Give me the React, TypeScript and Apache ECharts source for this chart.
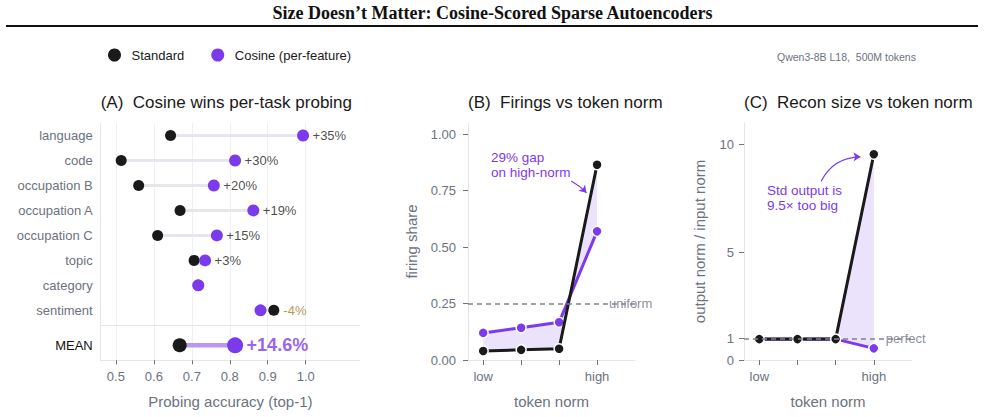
import React, { useEffect, useRef } from 'react';
import * as echarts from 'echarts';

// ---------- Panel A data ----------
const tasks = ['language', 'code', 'occupation B', 'occupation A', 'occupation C', 'topic', 'category', 'sentiment'];
const stdAcc = [0.644, 0.514, 0.560, 0.669, 0.610, 0.706, 0.717, 0.916];
const cosAcc = [0.993, 0.814, 0.758, 0.862, 0.766, 0.735, 0.717, 0.881];
const diffLabels = ['+35%', '+30%', '+20%', '+19%', '+15%', '+3%', '', '-4%'];
const meanName = 'MEAN';
const meanStd = 0.668;
const meanCos = 0.814;
const meanDiff = '+14.6%';
const accTicks = [0.5, 0.6, 0.7, 0.8, 0.9, 1.0];

// ---------- Panel B data ----------
const normBins = ['low', '', '', 'high'];
const firingStd = [0.04, 0.045, 0.05, 0.865];
const firingCos = [0.12, 0.143, 0.167, 0.57];
const firingTicks = [0, 0.25, 0.5, 0.75, 1.0];
const uniformShare = 0.25;

// ---------- Panel C data ----------
const reconStd = [0.97, 0.97, 0.97, 9.55];
const reconCos = [0.96, 0.96, 0.97, 0.54];
const reconTicks = [0, 1, 5, 10];
const perfectRatio = 1;

// ---------- layout / style constants ----------
const MEAN_POS = 8.4;
const SEP_POS = 7.6;
const BLACK = '#1a1a1a';
const PURPLE = '#7c3aed';
const FILL = 'rgba(124,58,237,0.15)';
const GRAY = '#6b7280';
const AXIS = '#e3e5ea';
const SANS = '"Liberation Sans", Arial, Helvetica, sans-serif';

function fillBetween(a: number[], b: number[], xi: number, yi: number) {
  return {
    type: 'custom',
    xAxisIndex: xi,
    yAxisIndex: yi,
    silent: true,
    z: 1,
    data: a.map((v, i) => [i, v, b[i]]),
    encode: { x: 0, y: [1, 2] },
    renderItem: (params: any, api: any) => {
      if (params.dataIndex !== 0) return null;
      const pts: number[][] = [];
      for (let i = 0; i < a.length; i++) pts.push(api.coord([i, a[i]]));
      for (let i = b.length - 1; i >= 0; i--) pts.push(api.coord([i, b[i]]));
      return { type: 'polygon', shape: { points: pts }, style: { fill: FILL } };
    },
  };
}

function lineSeries(vals: number[], color: string, xi: number, yi: number, z: number, size: number) {
  return {
    type: 'line',
    xAxisIndex: xi,
    yAxisIndex: yi,
    z,
    data: vals.map((v, i) => [i, v]),
    symbol: 'circle',
    symbolSize: size,
    lineStyle: { color, width: 3 },
    itemStyle: { color, borderColor: '#fff', borderWidth: 1.5, opacity: 1 },
    silent: true,
  };
}

function normXAxis(gi: number) {
  return {
    gridIndex: gi,
    type: 'value',
    min: -0.4,
    max: 4,
    axisLine: { show: true, onZero: false, lineStyle: { color: AXIS, width: 1 } },
    axisTick: { show: true, customValues: [0, 1, 2, 3], length: 5, lineStyle: { color: GRAY } },
    axisLabel: {
      customValues: [0, 1, 2, 3],
      formatter: (v: number) => normBins[Math.round(v)],
      fontSize: 13,
      color: GRAY,
      margin: 10,
    },
    splitLine: { show: false },
    name: 'token norm',
    nameLocation: 'middle',
    nameGap: 34,
    nameTextStyle: { fontSize: 15, color: GRAY },
  };
}

function buildOption(): any {
  const rowIdx = tasks.map((_, i) => i);
  return {
    animation: false,
    backgroundColor: '#fff',
    textStyle: { fontFamily: SANS },
    title: [
      {
        text: 'Size Doesn\u2019t Matter: Cosine-Scored Sparse Autoencoders',
        left: 'center',
        top: 4,
        padding: 0,
        textStyle: { fontFamily: '"Liberation Serif", "Times New Roman", serif', fontWeight: 'bold', fontSize: 18, color: '#111' },
      },
      { text: '(A)  Cosine wins per-task probing', left: 100.7, top: 94, padding: 0, textStyle: { fontFamily: SANS, fontSize: 17, fontWeight: 'normal', color: '#1a1a1a' } },
      { text: '(B)  Firings vs token norm', left: 468, top: 94, padding: 0, textStyle: { fontFamily: SANS, fontSize: 17, fontWeight: 'normal', color: '#1a1a1a' } },
      { text: '(C)  Recon size vs token norm', left: 744, top: 94, padding: 0, textStyle: { fontFamily: SANS, fontSize: 17, fontWeight: 'normal', color: '#1a1a1a' } },
    ],
    legend: {
      data: ['Standard', 'Cosine (per-feature)'],
      left: 108,
      top: 48.5,
      icon: 'circle',
      itemWidth: 24,
      itemHeight: 13,
      itemGap: 27,
      padding: 0,
      selectedMode: false,
      itemStyle: { opacity: 1 },
      textStyle: { fontSize: 13, color: '#1a1a1a', fontFamily: SANS },
    },
    graphic: [
      { type: 'line', shape: { x1: 6, y1: 26, x2: 978, y2: 26 }, style: { stroke: '#111', lineWidth: 2 }, silent: true },
      {
        type: 'text', x: 777, y: 57,
        style: { text: 'Qwen3-8B L18,  500M tokens', fill: GRAY, fontSize: 10.5, fontFamily: SANS, verticalAlign: 'middle' },
        silent: true,
      },
      {
        type: 'text', x: 491, y: 150,
        style: { text: '29% gap\non high-norm', fill: PURPLE, fontSize: 13.5, lineHeight: 15, fontFamily: SANS, verticalAlign: 'top' },
        silent: true,
      },
      {
        type: 'text', x: 767, y: 183,
        style: { text: 'Std output is\n9.5\u00d7 too big', fill: PURPLE, fontSize: 13.5, lineHeight: 15, fontFamily: SANS, verticalAlign: 'top' },
        silent: true,
      },
    ],
    grid: [
      { left: 100.7, top: 123, width: 259.3, height: 237.3 },
      { left: 468, top: 123, width: 167, height: 237 },
      { left: 744, top: 123, width: 168, height: 237 },
    ],
    xAxis: [
      {
        gridIndex: 0,
        type: 'value',
        min: 0.46,
        max: 1.143,
        axisLine: { show: true, onZero: false, lineStyle: { color: AXIS } },
        axisTick: { show: true, customValues: accTicks, length: 4, lineStyle: { color: GRAY } },
        axisLabel: { customValues: accTicks, formatter: (v: number) => v.toFixed(1), fontSize: 13, color: GRAY, margin: 10 },
        splitLine: { show: true, lineStyle: { color: '#eef0f4', width: 1 } },
        name: 'Probing accuracy (top-1)',
        nameLocation: 'middle',
        nameGap: 34,
        nameTextStyle: { fontSize: 15, color: GRAY },
      },
      normXAxis(1),
      normXAxis(2),
    ],
    yAxis: [
      {
        gridIndex: 0,
        type: 'value',
        inverse: true,
        min: -0.5,
        max: 9,
        axisLine: { show: true, onZero: false, lineStyle: { color: AXIS } },
        axisTick: { show: false },
        splitLine: { show: false },
        axisLabel: {
          customValues: [...rowIdx, MEAN_POS],
          formatter: (v: number) => (Math.abs(v - MEAN_POS) < 1e-6 ? '{m|' + meanName + '}' : tasks[Math.round(v)]),
          fontSize: 13,
          color: GRAY,
          margin: 8,
          rich: { m: { fontSize: 13, color: '#111', fontFamily: SANS } },
        },
      },
      {
        gridIndex: 1,
        type: 'value',
        min: 0,
        max: 1.05,
        axisLine: { show: true, onZero: false, lineStyle: { color: AXIS } },
        axisTick: { show: true, customValues: firingTicks, length: 5, lineStyle: { color: GRAY } },
        axisLabel: { customValues: firingTicks, formatter: (v: number) => v.toFixed(2), fontSize: 13, color: GRAY, margin: 12 },
        splitLine: { show: false },
        name: 'firing share',
        nameLocation: 'middle',
        nameGap: 49,
        nameTextStyle: { fontSize: 15, color: GRAY },
      },
      {
        gridIndex: 2,
        type: 'value',
        min: 0,
        max: 11,
        axisLine: { show: true, onZero: false, lineStyle: { color: AXIS } },
        axisTick: { show: true, customValues: reconTicks, length: 5, lineStyle: { color: GRAY } },
        axisLabel: { customValues: reconTicks, formatter: (v: number) => String(v), fontSize: 13, color: GRAY, margin: 10 },
        splitLine: { show: false },
        name: 'output norm / input norm',
        nameLocation: 'middle',
        nameGap: 37,
        nameTextStyle: { fontSize: 15, color: GRAY },
      },
    ],
    series: [
      // ----- Panel A -----
      {
        type: 'custom',
        xAxisIndex: 0,
        yAxisIndex: 0,
        silent: true,
        z: 1,
        data: tasks.map((_, i) => [stdAcc[i], cosAcc[i], i]),
        encode: { x: [0, 1], y: 2 },
        renderItem: (_p: any, api: any) => {
          const a = api.coord([api.value(0), api.value(2)]);
          const b = api.coord([api.value(1), api.value(2)]);
          return { type: 'line', shape: { x1: a[0], y1: a[1], x2: b[0], y2: b[1] }, style: { stroke: '#e6e7ec', lineWidth: 3 } };
        },
        markLine: {
          silent: true,
          symbol: 'none',
          label: { show: false },
          lineStyle: { color: AXIS, width: 1, type: 'solid' },
          data: [{ yAxis: SEP_POS }],
        },
      },
      {
        type: 'custom',
        xAxisIndex: 0,
        yAxisIndex: 0,
        silent: true,
        z: 1,
        data: [[meanStd, meanCos, MEAN_POS]],
        encode: { x: [0, 1], y: 2 },
        renderItem: (_p: any, api: any) => {
          const a = api.coord([api.value(0), api.value(2)]);
          const b = api.coord([api.value(1), api.value(2)]);
          return { type: 'line', shape: { x1: a[0], y1: a[1], x2: b[0], y2: b[1] }, style: { stroke: '#b898f3', lineWidth: 4.5 } };
        },
      },
      {
        name: 'Standard',
        type: 'scatter',
        xAxisIndex: 0,
        yAxisIndex: 0,
        z: 3,
        symbolSize: 11,
        itemStyle: { color: BLACK, opacity: 1 },
        data: stdAcc.map((v, i) => [v, i]),
        silent: true,
      },
      {
        name: 'Cosine (per-feature)',
        type: 'scatter',
        xAxisIndex: 0,
        yAxisIndex: 0,
        z: 4,
        symbolSize: 12,
        itemStyle: { color: PURPLE, opacity: 1 },
        data: cosAcc.map((v, i) => [v, i]),
        silent: true,
      },
      {
        type: 'scatter',
        xAxisIndex: 0,
        yAxisIndex: 0,
        z: 4,
        symbolSize: 14,
        itemStyle: { color: BLACK, opacity: 1 },
        data: [[meanStd, MEAN_POS]],
        silent: true,
      },
      {
        type: 'scatter',
        xAxisIndex: 0,
        yAxisIndex: 0,
        z: 5,
        symbolSize: 16,
        itemStyle: { color: PURPLE, opacity: 1 },
        data: [[meanCos, MEAN_POS]],
        silent: true,
      },
      {
        type: 'scatter',
        xAxisIndex: 0,
        yAxisIndex: 0,
        z: 6,
        symbolSize: 1,
        itemStyle: { color: 'rgba(0,0,0,0)' },
        silent: true,
        data: tasks
          .map((_, i) => ({
            value: [Math.max(stdAcc[i], cosAcc[i]), i],
            lbl: diffLabels[i],
            label: { color: diffLabels[i].startsWith('-') ? '#a8792c' : BLACK },
          }))
          .filter((d) => d.lbl !== '')
          .map((d) => ({ value: d.value, name: d.lbl, label: d.label })),
        label: { show: true, position: 'right', distance: 9, formatter: (p: any) => p.name, fontSize: 13, fontFamily: SANS },
      },
      {
        type: 'scatter',
        xAxisIndex: 0,
        yAxisIndex: 0,
        z: 6,
        symbolSize: 1,
        itemStyle: { color: 'rgba(0,0,0,0)' },
        silent: true,
        data: [{ value: [meanCos, MEAN_POS], name: meanDiff }],
        label: { show: true, position: 'right', distance: 11, formatter: (p: any) => p.name, fontSize: 18, fontWeight: 'bold', color: PURPLE, fontFamily: SANS },
      },

      // ----- Panel B -----
      fillBetween(firingStd, firingCos, 1, 1),
      {
        type: 'scatter',
        xAxisIndex: 1,
        yAxisIndex: 1,
        z: 2,
        symbolSize: 1,
        itemStyle: { color: 'rgba(0,0,0,0)' },
        silent: true,
        data: [{ value: [3.3, uniformShare], name: 'uniform' }],
        label: { show: true, position: 'right', distance: 0, formatter: (p: any) => p.name, fontSize: 13, color: GRAY, fontFamily: SANS },
        markLine: {
          silent: true,
          symbol: 'none',
          label: { show: false },
          lineStyle: { color: '#80848c', width: 1.5, type: [5, 4] },
          data: [{ yAxis: uniformShare }],
        },
      },
      lineSeries(firingCos, PURPLE, 1, 1, 3, 10),
      lineSeries(firingStd, BLACK, 1, 1, 4, 10),
      {
        type: 'lines',
        coordinateSystem: 'cartesian2d',
        xAxisIndex: 1,
        yAxisIndex: 1,
        z: 6,
        silent: true,
        symbol: ['none', 'arrow'],
        symbolSize: [0, 7],
        lineStyle: { color: PURPLE, width: 1.2, curveness: 0.08, opacity: 1 },
        data: [{ coords: [[2.32, 0.793], [2.72, 0.741]] }],
      },

      // ----- Panel C -----
      fillBetween(reconStd, reconCos, 2, 2),
      {
        type: 'scatter',
        xAxisIndex: 2,
        yAxisIndex: 2,
        z: 2,
        symbolSize: 1,
        itemStyle: { color: 'rgba(0,0,0,0)' },
        silent: true,
        data: [{ value: [3.3, perfectRatio], name: 'perfect' }],
        label: { show: true, position: 'right', distance: 0, formatter: (p: any) => p.name, fontSize: 13, color: GRAY, fontFamily: SANS },
        markLine: {
          silent: true,
          symbol: 'none',
          label: { show: false },
          lineStyle: { color: '#80848c', width: 1.5, type: [5, 4] },
          data: [{ yAxis: perfectRatio }],
        },
      },
      lineSeries(reconCos, PURPLE, 2, 2, 3, 10),
      lineSeries(reconStd, BLACK, 2, 2, 4, 10),
      {
        type: 'lines',
        coordinateSystem: 'cartesian2d',
        xAxisIndex: 2,
        yAxisIndex: 2,
        z: 6,
        silent: true,
        symbol: ['none', 'arrow'],
        symbolSize: [0, 7],
        lineStyle: { color: PURPLE, width: 1.2, curveness: 0.3, opacity: 1 },
        data: [{ coords: [[1.62, 8.3], [2.65, 9.43]] }],
      },
    ],
  };
}

export default function App() {
  const ref = useRef<HTMLDivElement>(null);
  useEffect(() => {
    if (!ref.current) return;
    const chart = echarts.init(ref.current, undefined, { renderer: 'svg' });
    chart.setOption(buildOption());
    return () => chart.dispose();
  }, []);
  return (
    <div
      ref={ref}
      style={{ position: 'fixed', left: 0, top: 0, width: 985, height: 417, background: '#fff' }}
    />
  );
}
